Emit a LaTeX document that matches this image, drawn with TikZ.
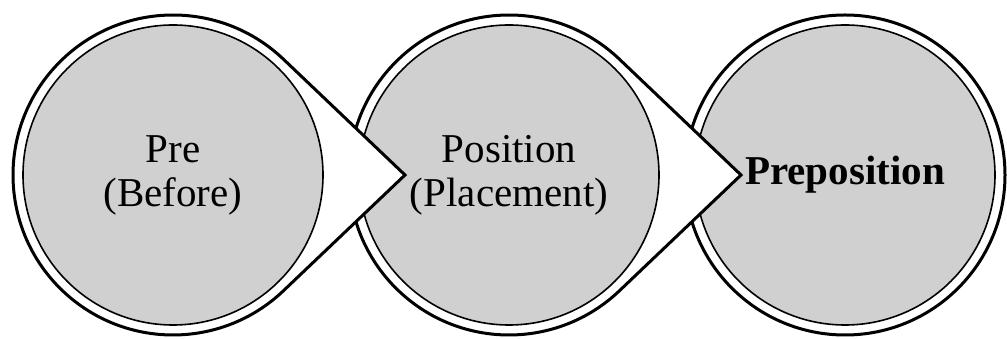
\documentclass[tikz,border=0pt]{standalone}
\usepackage{fontspec}
\setmainfont{Liberation Serif}
\usetikzlibrary{calc}
\definecolor{fillgray}{RGB}{208,208,208}
\tikzset{
  outerring/.style={draw=black, fill=white, line width=3pt, line join=miter},
  innerdisc/.style={circle, draw=black, fill=fillgray, line width=1.6pt, minimum size=300pt, inner sep=0pt, align=center, font=\fontsize{41}{44}\selectfont},
}
\begin{document}
\begin{tikzpicture}[x=1pt,y=1pt]
\useasboundingbox (0,0) rectangle (1007,339);
% shape 3 (right, no tip)
\coordinate (c3) at (845,164);
\draw[outerring] (c3) circle[radius=160];
\node[innerdisc] (n3) at (c3) {\textbf{Preposition}};
% shape 2
\coordinate (c2) at (509,164);
\coordinate (t2) at (741,164);
\draw[outerring] (t2) -- ($(c2)+(46.4:160)$) arc[start angle=46.4, end angle=313.6, radius=160] -- cycle;
\node[innerdisc] (n2) at (c2) {Position\\(Placement)};
% shape 1
\coordinate (c1) at (173,164);
\coordinate (t1) at (405,164);
\draw[outerring] (t1) -- ($(c1)+(46.4:160)$) arc[start angle=46.4, end angle=313.6, radius=160] -- cycle;
\node[innerdisc] (n1) at (c1) {Pre\\(Before)};
\end{tikzpicture}
\end{document}
